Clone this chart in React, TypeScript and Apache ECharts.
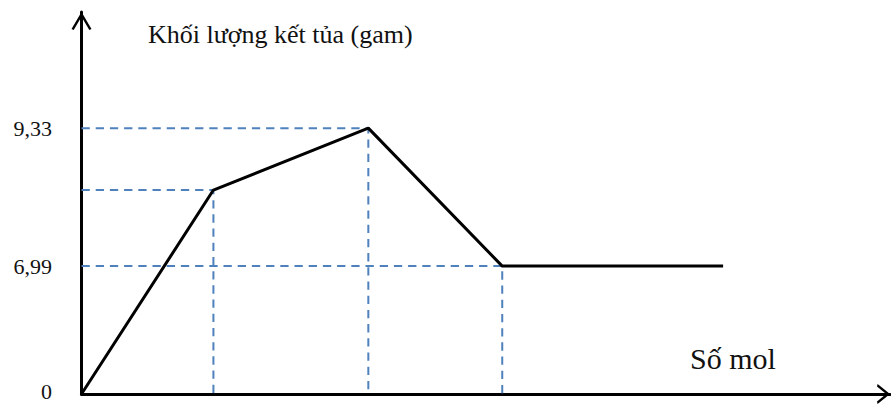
import React, { useEffect, useRef } from "react";
import * as echarts from "echarts";

// Reagent added (mol, drawn without tick marks) at each turning point of the curve
const molPoints = [0, 1.32, 2.87, 4.21, 6.42];
// Precipitate mass (g) at the same points
const massPoints = [0, 8.28, 9.33, 6.99, 6.99];
// Levels marked on the mass axis and their printed labels
const massTicks = [0, 6.99, 9.33];
const massTickLabels = ["0", "6,99", "9,33"];
// Turning points joined to both axes by dashed guides
const guidePoints = [1, 2, 3];

const serif = "'Liberation Serif', 'Times New Roman', serif";

// Open chevron arrow heads (pointing up in symbol space; ECharts rotates them)
const arrowY = "path://M10,0L20,17L17.8,18L10,4.7L2.2,18L0,17Z";
const arrowX = "path://M10.5,0L20.4,12.4L18,13L10.5,3.8L3,13L0.6,12.4Z";

export default function App() {
  const ref = useRef<HTMLDivElement>(null);

  useEffect(() => {
    if (!ref.current) return;
    const chart = echarts.init(ref.current, null, { renderer: "svg" });

    const curve = molPoints.map((x, i) => [x, massPoints[i]]);
    const guides = guidePoints.map((i) => ({
      type: "line" as const,
      data: [
        [0, massPoints[i]],
        [molPoints[i], massPoints[i]],
        [molPoints[i], 0],
      ],
      symbol: "none",
      clip: false,
      silent: true,
      z: 1,
      lineStyle: { color: "#4f81bd", width: 2, type: [8.3, 5.9] },
    }));

    chart.setOption({
      animation: false,
      backgroundColor: "#ffffff",
      title: [
        {
          text: "Khối lượng kết tủa (gam)",
          left: 148,
          top: 21,
          padding: 0,
          textStyle: { fontFamily: serif, fontSize: 26, fontWeight: "normal", color: "#111" },
        },
        {
          text: "Số mol",
          left: 690,
          top: 343,
          padding: 0,
          textStyle: { fontFamily: serif, fontSize: 30, fontWeight: "normal", color: "#111" },
        },
      ],
      grid: { left: 81.5, right: 1, top: 12, bottom: 11, outerBoundsMode: "none" },
      xAxis: {
        type: "value",
        min: 0,
        max: 8.09,
        axisLine: {
          show: true,
          onZero: false,
          lineStyle: { color: "#000", width: 3 },
          symbol: ["none", arrowX],
          symbolSize: [21, 13],
          symbolOffset: [0, -6.5],
        },
        axisTick: { show: false },
        axisLabel: { show: false },
        splitLine: { show: false },
      },
      yAxis: {
        type: "value",
        min: 0,
        max: 11.3,
        breaks: [{ start: 0.5, end: 6.5, gap: "18.2%" }],
        breakArea: { show: false },
        axisLine: {
          show: true,
          onZero: false,
          breakLine: false,
          lineStyle: { color: "#000", width: 3 },
          symbol: ["none", arrowY],
          symbolSize: [20, 18],
          symbolOffset: [0, -9],
        },
        axisTick: { show: false, customValues: massTicks },
        splitLine: { show: false },
        axisLabel: {
          show: true,
          customValues: massTicks,
          margin: 29.5,
          fontFamily: serif,
          fontSize: 22,
          color: "#111",
          formatter: (v: number) => {
            const i = massTicks.indexOf(v);
            const s = i >= 0 ? massTickLabels[i] : "";
            return v === 0 ? `{z|${s}}` : s;
          },
          rich: {
            z: { fontFamily: serif, fontSize: 22, color: "#111", lineHeight: 22, padding: [0, 0, 6, 0] },
          },
        },
      },
      series: [
        ...guides,
        {
          type: "line",
          data: curve,
          symbol: "none",
          clip: false,
          z: 3,
          lineStyle: { color: "#000", width: 3 },
        },
      ],
    });

    return () => chart.dispose();
  }, []);

  return <div ref={ref} style={{ width: 891, height: 405, position: "absolute", left: 0, top: 0 }} />;
}
